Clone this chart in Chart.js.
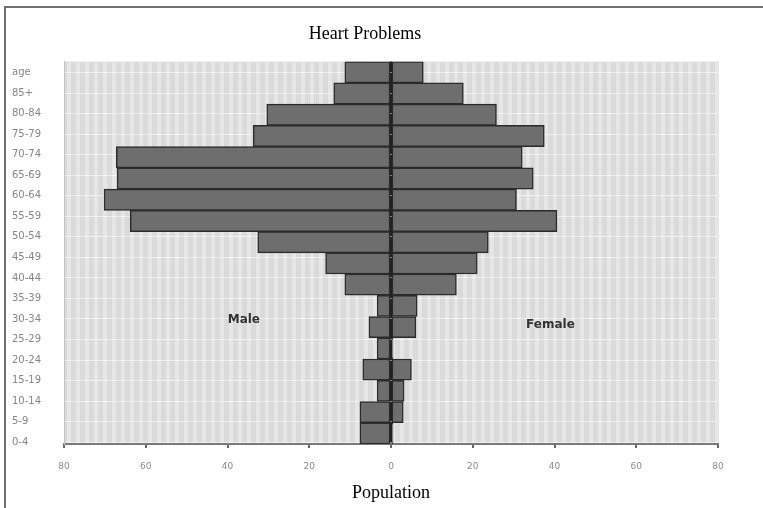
<!DOCTYPE html>
<html>
<head>
<meta charset="utf-8">
<title>Heart Problems</title>
<script src="https://cdn.jsdelivr.net/npm/chart.js@4.4.1/dist/chart.umd.min.js"></script>
<style>
  body { margin: 0; background: #fff; }
  .wrap { position: relative; width: 763px; height: 508px; }
  #frame {
    position: absolute; left: 4px; top: 6px; width: 759px; height: 502px;
    border-top: 2px solid #707070; border-left: 2px solid #707070;
    box-sizing: border-box; pointer-events: none;
  }
  canvas { position: absolute; left: 0; top: 0; }
</style>
</head>
<body>
<div class="wrap">
  <canvas id="myChart" width="763" height="508"></canvas>
  <div id="frame"></div>
</div>
<script>
// age groups, one per bar (top to bottom)
const ageGroups = ['85+', '80-84', '75-79', '70-74', '65-69', '60-64', '55-59', '50-54', '45-49',
  '40-44', '35-39', '30-34', '25-29', '20-24', '15-19', '10-14', '5-9', '0-4'];
// labels shown on the left axis (includes the "age" header row)
const axisLabels = ['age'].concat(ageGroups);

// male shown as negative so it goes to the left
const maleValues = [-11.3, -14, -30.4, -33.7, -67.2, -67, -70.2, -63.8, -32.6,
  -16, -11.3, -3.4, -5.4, -3.4, -6.9, -3.4, -7.6, -7.6];
const femaleValues = [7.9, 17.7, 25.8, 37.5, 32.1, 34.8, 30.7, 40.6, 23.8,
  21.1, 16, 6.4, 6.1, 0.5, 5, 3.2, 3, 0.5];

const xTicks = [-80, -60, -40, -20, 0, 20, 40, 60, 80];

// in-plot text labels: [text, x value, row position on the bar axis]
const sideLabels = [['Male', -36, 11.66], ['Female', 39, 11.9]];

// plot background with vertical stripes, and the Male/Female notes
const plotBg = {
  id: 'plotBg',
  beforeDraw(chart) {
    const { ctx, chartArea: a } = chart;
    ctx.save();
    ctx.fillStyle = '#dadada';
    ctx.fillRect(a.left, a.top, a.right - a.left, a.bottom - a.top);
    ctx.fillStyle = '#e6e6e6';
    for (let x = a.left + 3; x < a.right - 2; x += 9) {
      ctx.fillRect(x, a.top, 4, a.bottom - a.top);
    }
    ctx.restore();
  },
  afterDatasetsDraw(chart) {
    const { ctx } = chart;
    const xs = chart.scales.x;
    const ys = chart.scales.y;
    ctx.save();
    ctx.font = 'bold 12px "DejaVu Sans"';
    ctx.fillStyle = '#333';
    ctx.textAlign = 'center';
    ctx.textBaseline = 'middle';
    sideLabels.forEach(l => {
      ctx.fillText(l[0], xs.getPixelForValue(l[1]), ys.getPixelForValue(l[2]));
    });
    ctx.restore();
  }
};

const ctx = document.getElementById('myChart').getContext('2d');
window.myChart = new Chart(ctx, {
  type: 'bar',
  data: {
    labels: ageGroups,
    datasets: [
      {
        label: 'Male',
        data: maleValues,
        backgroundColor: '#6e6e6e',
        borderColor: '#2b2b2b',
        borderWidth: 1.5,
        borderSkipped: false,
        categoryPercentage: 1,
        barPercentage: 1
      },
      {
        label: 'Female',
        data: femaleValues,
        backgroundColor: '#6e6e6e',
        borderColor: '#2b2b2b',
        borderWidth: 1.5,
        borderSkipped: false,
        categoryPercentage: 1,
        barPercentage: 1
      }
    ]
  },
  options: {
    indexAxis: 'y',
    responsive: false,
    animation: false,
    layout: { padding: { left: 12, right: 45, top: 0, bottom: 4 } },
    scales: {
      x: {
        type: 'linear',
        stacked: true,
        min: -80,
        max: 80,
        afterBuildTicks: s => { s.ticks = xTicks.map(v => ({ value: v })); },
        afterFit: s => { s.height = 60; },
        ticks: {
          callback: v => Math.abs(v),
          font: { family: 'DejaVu Sans', size: 9 },
          color: '#8a8a8a',
          padding: 13,
          maxRotation: 0
        },
        grid: {
          color: c => (c.tick && c.tick.value === 0 ? '#222' : 'transparent'),
          lineWidth: 2,
          tickColor: '#666',
          tickLength: 4
        },
        border: { color: '#7a7a7a', width: 2 },
        title: {
          display: true,
          text: 'Population',
          font: { family: 'Liberation Serif', size: 18 },
          color: '#000',
          padding: { top: 0, bottom: 0 }
        }
      },
      y: {
        stacked: true,
        display: false
      },
      // label axis: row index 0..18, "age" at the top
      // (bar charts default the index axis to offset:true, so switch it off)
      yl: {
        type: 'linear',
        position: 'left',
        reverse: true,
        offset: false,
        bounds: 'data',
        min: -0.54,
        max: 18.09,
        afterBuildTicks: s => { s.ticks = axisLabels.map((t, i) => ({ value: i })); },
        afterFit: s => { s.width = 52; },
        ticks: {
          callback: v => axisLabels[v],
          crossAlign: 'far',
          font: { family: 'DejaVu Sans', size: 10 },
          color: '#858585',
          padding: 4
        },
        grid: {
          color: 'rgba(255,255,255,0.55)',
          drawTicks: false,
          offset: false
        },
        border: { display: true, color: '#c4c4c4' }
      }
    },
    plugins: {
      legend: { display: false },
      tooltip: { enabled: false },
      title: {
        display: true,
        text: 'Heart Problems',
        font: { family: 'Liberation Serif', size: 18, weight: 'normal' },
        color: '#000',
        padding: { top: 23, bottom: 17 }
      }
    }
  },
  plugins: [plotBg]
});
</script>
</body>
</html>
